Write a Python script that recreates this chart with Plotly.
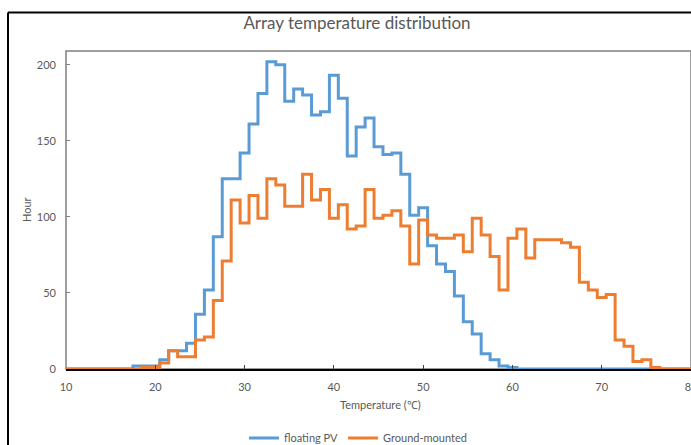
import plotly.graph_objects as go

temps = list(range(10, 81))

floating_pv = [0, 0, 0, 0, 0, 0, 0, 0, 2, 2,      # 10-19
               2, 6, 12, 12, 17, 36, 52, 87, 125, 125,  # 20-29
               142, 161, 181, 202, 200, 176, 184, 180, 167, 169,  # 30-39
               193, 178, 140, 159, 165, 146, 141, 142, 128, 101,  # 40-49
               106, 81, 69, 64, 48, 31, 23, 10, 6, 2,  # 50-59
               1, 0, 0, 0, 0, 0, 0, 0, 0, 0,  # 60-69
               0, 0, 0, 0, 0, 0, 0, 0, 0, 0, 0]  # 70-80

ground_mounted = [0, 0, 0, 0, 0, 0, 0, 0, 0, 1,  # 10-19
                  1, 4, 12, 8, 8, 19, 21, 45, 71, 111,  # 20-29
                  96, 114, 99, 125, 121, 107, 107, 128, 111, 118,  # 30-39
                  99, 108, 92, 94, 118, 99, 101, 104, 94, 69,  # 40-49
                  98, 88, 86, 86, 88, 77, 99, 88, 74, 52,  # 50-59
                  86, 92, 73, 85, 85, 85, 83, 80, 57, 52,  # 60-69
                  47, 49, 19, 15, 5, 6, 1, 0, 0, 0, 0]  # 70-80

series_names = ["floating PV", "Ground-mounted"]
x_ticks = [10, 20, 30, 40, 50, 60, 70, 80]
y_ticks = [0, 50, 100, 150, 200]

BLUE = "#5B9BD5"
ORANGE = "#ED7D31"
GRAY = "#595959"
FONT = "Lato"

fig = go.Figure()
fig.add_trace(go.Scatter(x=temps, y=floating_pv, name=series_names[0], mode="lines",
                         line=dict(color=BLUE, width=3, shape="hvh")))
fig.add_trace(go.Scatter(x=temps, y=ground_mounted, name=series_names[1], mode="lines",
                         line=dict(color=ORANGE, width=3, shape="hvh")))

W, H = 691, 445
L, R, T, B = 66, 0, 51, 76
pw = W - L - R
ph = H - T - B

def px_to_paper_x(px):
    return (px - L) / pw

def px_to_paper_y(py):
    return (H - B - py) / ph

fig.update_layout(
    width=W, height=H,
    margin=dict(l=L, r=R, t=T, b=B, autoexpand=False),
    paper_bgcolor="white", plot_bgcolor="white",
    font=dict(family=FONT, size=11, color=GRAY),
    title=dict(text="Array temperature distribution", x=357 / W, xanchor="center",
               y=1 - 23 / H, yanchor="middle", font=dict(family=FONT, size=17, color=GRAY)),
    showlegend=True,
    legend=dict(orientation="h", x=px_to_paper_x(358), xanchor="center",
                y=px_to_paper_y(438), yanchor="middle", font=dict(size=11, color=GRAY),
                bgcolor="rgba(0,0,0,0)"),
    xaxis=dict(range=[10, 80], tickvals=x_ticks, ticks="inside", ticklen=4, tickcolor="#404040",
               showgrid=False, zeroline=False, showline=True, linecolor="black", linewidth=1.5,
               tickfont=dict(size=11, color=GRAY), ticklabelstandoff=7,
               ticklabeloverflow="allow"),
    yaxis=dict(range=[0, 209], tickvals=y_ticks, ticks="inside", ticklen=4, tickcolor="#808080",
               showgrid=False, zeroline=False, showline=False,
               tickfont=dict(size=11, color=GRAY), ticklabelstandoff=9),
    shapes=[
        # plot-area border
        dict(type="rect", xref="paper", yref="paper", x0=0, x1=1, y0=0, y1=1,
             line=dict(color="#808080", width=1.5), layer="below"),
        # chart-area border (left and top)
        dict(type="line", xref="paper", yref="paper", x0=px_to_paper_x(8), x1=px_to_paper_x(8),
             y0=px_to_paper_y(12.5), y1=px_to_paper_y(450), line=dict(color="black", width=2)),
        dict(type="line", xref="paper", yref="paper", x0=px_to_paper_x(8), x1=px_to_paper_x(700),
             y0=px_to_paper_y(12.5), y1=px_to_paper_y(12.5), line=dict(color="black", width=2)),
    ],
    annotations=[
        dict(text="Hour", xref="paper", yref="paper", x=px_to_paper_x(26), y=px_to_paper_y(210),
             textangle=-90, showarrow=False, xanchor="center", yanchor="middle",
             font=dict(size=11, color=GRAY)),
        dict(text="Temperature (℃)", xref="paper", yref="paper", x=px_to_paper_x(380),
             y=px_to_paper_y(404), showarrow=False, xanchor="center", yanchor="middle",
             font=dict(size=11, color=GRAY)),
    ],
)

fig.write_html("out.html")
